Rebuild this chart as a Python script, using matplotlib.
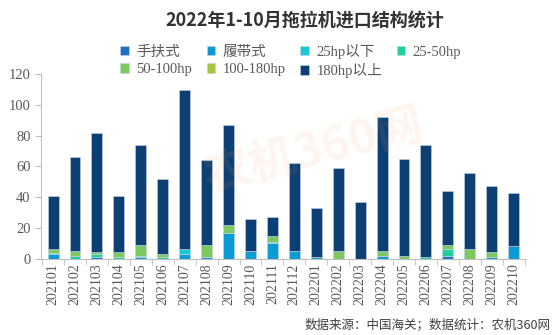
import numpy as np
import matplotlib.pyplot as plt

# 月份
months = ['202101', '202102', '202103', '202104', '202105', '202106', '202107',
          '202108', '202109', '202110', '202111', '202112', '202201', '202202',
          '202203', '202204', '202205', '202206', '202207', '202208', '202209',
          '202210']
# 各类型数量
shoufu   = [0, 0, 1, 0, 0, 0, 0, 0, 0, 0, 0, 0, 0, 0, 0, 0, 0, 0, 2, 0, 0, 0]
lvdai    = [3, 0, 0, 0, 1, 0, 3, 1, 17, 5, 10, 5, 1, 0, 0, 2, 0, 0, 0, 0, 1, 8]
hp25     = [0.5, 0, 0, 0, 0, 0, 3, 0, 0, 0, 1, 0, 0, 0, 0, 0, 0, 0, 0, 0, 0, 0]
hp25_50  = [0, 2, 2, 1, 1, 1, 0, 0, 0, 0, 0, 0, 0, 0, 0, 0, 0, 1, 4, 0, 0, 0]
hp50_100 = [2.5, 3, 1, 3, 7, 2, 0, 8, 5, 0, 4, 0, 0, 5, 0, 3, 2, 0, 3, 6, 3, 0]
hp100_180 = [0] * 22
totals   = [41, 66, 82, 41, 74, 52, 110, 64, 87, 26, 27, 62, 33, 59, 37, 92,
            65, 74, 44, 56, 47, 43]

names = ['手扶式', '履带式', '25hp以下', '25-50hp', '50-100hp', '100-180hp', '180hp以上']
colors = ['#1f6fc5', '#0a9bd6', '#18c9d8', '#1fcf9c', '#7cc95f', '#a5c444', '#0c3f74']

small = [shoufu, lvdai, hp25, hp25_50, hp50_100, hp100_180]
hp180 = list(np.array(totals) - np.sum(small, axis=0))
series = small + [hp180]

plt.rcParams['font.family'] = ['Liberation Serif', 'Noto Sans CJK SC']

fig = plt.figure(figsize=(5.54, 3.35), dpi=100)
ax = fig.add_axes([0.074, 0.228, 0.875, 0.55])

x = np.arange(len(months))
bottom = np.zeros(len(months))
handles = []
for name, vals, c in zip(names, series, colors):
    b = ax.bar(x, vals, 0.5, bottom=bottom, color=c, label=name,
               edgecolor='#c8d3e0', linewidth=0.4)
    handles.append(b)
    bottom += np.array(vals)

ax.set_ylim(0, 120)
ax.set_yticks(range(0, 121, 20))
ax.set_xlim(-0.55, len(months) - 0.45)
ax.set_xticks(x)
ax.set_xticklabels(months, rotation=90, fontsize=10, color='#595959')
ax.tick_params(axis='x', length=0)
ax.set_xticks(np.arange(-0.5, len(months), 1), minor=True)
ax.tick_params(axis='x', which='minor', length=4, color='#bfbfbf')
ax.tick_params(axis='y', labelsize=10.5, labelcolor='#595959', color='#bfbfbf', length=4)
for s in ['top', 'right']:
    ax.spines[s].set_visible(False)
ax.spines['left'].set_color('#bfbfbf')
ax.spines['bottom'].set_color('#bfbfbf')

# 水印
fig.text(0.565, 0.55, '农机360网', fontsize=34, color='#f7a35c', alpha=0.1,
         rotation=14, ha='center', va='center', fontweight='bold',
         family=['Noto Sans CJK SC'])

fig.text(0.55, 0.94, '2022年1-10月拖拉机进口结构统计', ha='center', va='center',
         fontsize=13, fontweight='bold', color='#333333', family=['Noto Sans CJK SC'])

# 图例按行排列
order = [0, 4, 1, 5, 2, 6, 3]
ax.legend([handles[i] for i in order], [names[i] for i in order],
          ncol=4, loc='lower left', bbox_to_anchor=(0.148, 0.94), frameon=False,
          fontsize=10.5, handlelength=0.6, handleheight=0.6, handletextpad=0.5,
          columnspacing=1.0, labelspacing=0.3, borderpad=0, labelcolor='#595959')

fig.text(0.993, 0.03, '数据来源：中国海关；数据统计：农机360网', ha='right', va='center',
         fontsize=9, color='#404040', family=['Noto Sans CJK SC'])

fig.savefig('out.png', dpi=100)
